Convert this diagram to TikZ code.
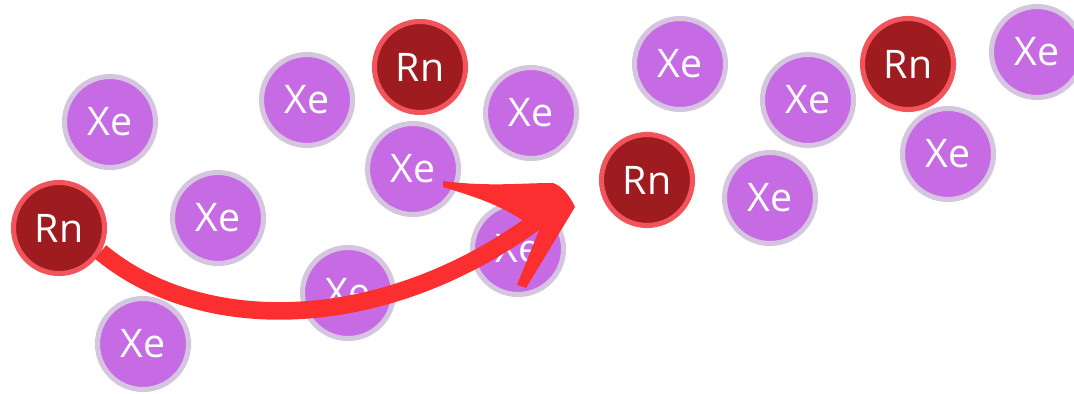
\documentclass[tikz,border=0pt]{standalone}
\usepackage{fontspec}
\setmainfont{Open Sans}
\usepackage{xcolor}
\usetikzlibrary{calc}

\definecolor{xefill}{HTML}{C76BE5}
\definecolor{xeline}{HTML}{D5C5DF}
\definecolor{rnfill}{HTML}{9E1B1F}
\definecolor{rnline}{HTML}{F2545B}
\definecolor{arrowred}{HTML}{FB2F30}

\begin{document}
\begin{tikzpicture}[
    x=0.025cm, y=-0.025cm,
    atom/.style={circle, minimum size=2.275cm, inner sep=0pt, line width=3.6pt, text=white, font=\fontsize{28}{30}\selectfont},
    xe/.style={atom, draw=xeline, fill=xefill},
    rn/.style={atom, draw=rnline, fill=rnfill}
]
\useasboundingbox (0,0) rectangle (1074,394);

\node[xe] (xe1) at (110,122) {Xe};
\node[rn] (rn1) at (59,228) {Rn};
\node[xe] (xe2) at (218,218) {Xe};
\node[xe] (xe3) at (143,344) {Xe};
\node[xe] (xe4) at (307,100) {Xe};
\node[rn] (rn2) at (420,67) {Rn};
\node[xe] (xe5) at (413,169) {Xe};
\node[xe] (xe6) at (531,113) {Xe};
\node[xe] (xe7) at (348,293) {Xe};
\node[xe] (xe8) at (518,249) {Xe};
\node[rn] (rn3) at (647,180) {Rn};
\node[xe] (xe9) at (680,64) {Xe};
\node[xe] (xe10) at (770,198) {Xe};
\node[xe] (xe11) at (808,100) {Xe};
\node[rn] (rn4) at (908,64) {Rn};
\node[xe] (xe12) at (948,154) {Xe};
\node[xe] (xe13) at (1037,52) {Xe};

% hand-drawn arrow
\coordinate (tip) at (575,207);
\coordinate (headbase) at (535,222);
\draw[arrowred, line width=12.5pt] (rn1.-30) .. controls (200,335) and (380,335) .. (headbase);
\fill[arrowred] (443,181) .. controls (490,187) and (520,183) .. (553,183)
    .. controls (562,186) and (570,196) .. (tip) -- (526,288) -- (517,285) -- (540,228) -- (522,220)
    .. controls (495,202) and (465,194) .. (443,187) -- cycle;

\end{tikzpicture}
\end{document}
